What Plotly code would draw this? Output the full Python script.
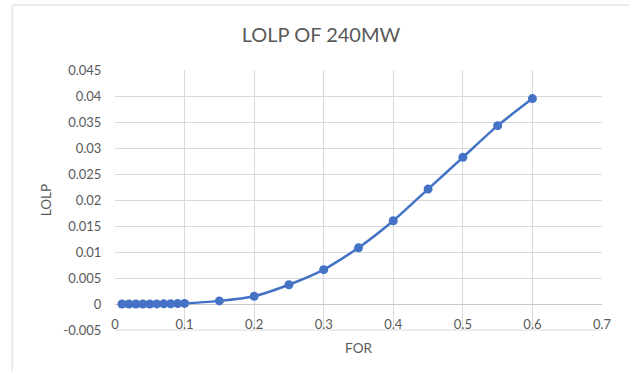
import plotly.graph_objects as go

# Forced outage rate and loss-of-load probability for the 240 MW unit
for_rate = [0.01, 0.02, 0.03, 0.04, 0.05, 0.06, 0.07, 0.08, 0.09, 0.10,
            0.15, 0.20, 0.25, 0.30, 0.35, 0.40, 0.45, 0.50, 0.55, 0.60]
lolp = [0.0, 0.0, 0.0, 0.0, 0.00001, 0.00002, 0.00003, 0.00005, 0.00008, 0.00012,
        0.0006, 0.0015, 0.0037, 0.0066, 0.0108, 0.0160, 0.0221, 0.0282, 0.0343, 0.0395]

x_ticks = [0, 0.1, 0.2, 0.3, 0.4, 0.5, 0.6, 0.7]
x_labels = ["0", "0.1", "0.2", "0.3", "0.4", "0.5", "0.6", "0.7"]
y_ticks = [-0.005, 0, 0.005, 0.01, 0.015, 0.02, 0.025, 0.03, 0.035, 0.04, 0.045]
y_labels = ["-0.005", "0", "0.005", "0.01", "0.015", "0.02", "0.025",
            "0.03", "0.035", "0.04", "0.045"]

BLUE = "#4472C4"
TEXT = "#595959"
GRID = "#d9d9d9"
FONT = "Lato, Carlito, Calibri, sans-serif"

fig = go.Figure(go.Scatter(
    x=for_rate, y=lolp, mode="lines+markers",
    line=dict(color=BLUE, width=2.5, shape="spline", smoothing=0.6),
    marker=dict(color=BLUE, size=9),
    showlegend=False,
))

fig.update_layout(
    width=629, height=371,
    margin=dict(l=115, r=27, t=70, b=41),
    paper_bgcolor="white", plot_bgcolor="white",
    font=dict(family=FONT, color=TEXT, size=13),
    title=dict(text="LOLP OF 240MW", x=321 / 629, xanchor="center",
               y=1 - 35 / 371, yanchor="middle",
               font=dict(size=20, color=TEXT, family=FONT)),
    xaxis=dict(
        range=[0, 0.7], tickvals=x_ticks, ticktext=x_labels,
        showgrid=True, gridcolor=GRID, gridwidth=1,
        zeroline=False, showline=False,
        anchor="free", position=0.1,
        ticks="outside", ticklen=8, tickcolor="rgba(0,0,0,0)",
        tickfont=dict(size=13, color=TEXT),
        title=dict(text="FOR", font=dict(size=13.5, color=TEXT), standoff=12),
    ),
    yaxis=dict(
        range=[-0.005, 0.045], tickvals=y_ticks, ticktext=y_labels,
        showgrid=True, gridcolor=GRID, gridwidth=1,
        zeroline=True, zerolinecolor="#c8c8c8", zerolinewidth=1,
        showline=False, ticks="outside", ticklen=10, tickcolor="rgba(0,0,0,0)",
        tickfont=dict(size=13, color=TEXT),
        title=dict(text="LOLP", font=dict(size=13.5, color=TEXT), standoff=8),
    ),
    shapes=[
        # light border around the chart area
        dict(type="rect", xref="paper", yref="paper",
             x0=(12 - 115) / 488, x1=(640 - 115) / 488,
             y0=(330 - 380) / 260, y1=(330 - 5) / 260,
             line=dict(color="#d9d9d9", width=1), layer="below"),
        # bottom edge of the plot area
        dict(type="line", xref="paper", yref="paper", x0=0, x1=1, y0=0, y1=0,
             line=dict(color=GRID, width=1), layer="below"),
    ],
)

fig.write_html("out.html")
